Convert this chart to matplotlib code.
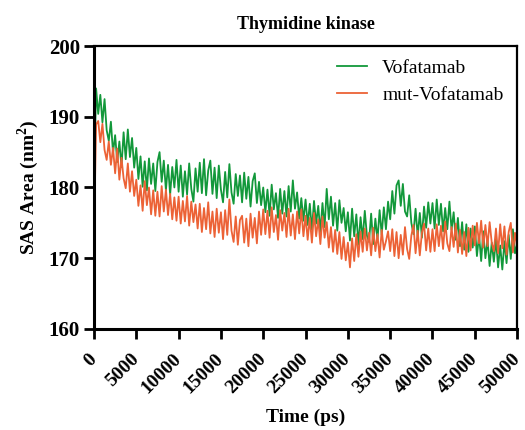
import numpy as np
import matplotlib.pyplot as plt

plt.rcParams['font.family'] = ['Liberation Serif', 'DejaVu Serif']
plt.rcParams['mathtext.fontset'] = 'custom'
plt.rcParams['mathtext.bf'] = 'Liberation Serif:bold'
plt.rcParams['mathtext.rm'] = 'Liberation Serif'

## time axis, one sample every 250 ps
time_ps = np.arange(0, 50001, 250)

## Vofatamab (green)
vofatamab = [
    180.0, 194.0, 190.4, 193.1, 189.2, 192.5, 188.1, 186.6, 189.3, 184.9,
    187.4, 183.6, 186.5, 182.9, 187.8, 184.0, 188.2, 184.3, 187.0, 182.8,
    185.6, 181.2, 184.4, 180.1, 183.7, 179.6, 184.1, 180.5, 183.4, 179.5,
    183.6, 185.0, 180.8, 183.8, 179.6, 183.2, 179.0, 182.9, 180.0, 183.9,
    179.4, 183.1, 178.7, 182.3, 179.0, 183.4, 179.8, 178.0, 182.7, 179.4,
    183.5, 179.2, 184.0, 178.9, 182.4, 183.8, 179.1, 182.8, 178.5, 183.1,
    179.7, 177.9, 182.2, 178.6, 183.3, 179.3, 177.7, 181.9, 178.8, 181.7,
    177.9, 182.1, 178.4, 181.5, 177.3, 180.9, 182.0, 177.8, 180.8, 177.5,
    180.0, 176.5, 179.7, 176.0, 180.4, 176.9, 179.2, 175.7, 179.8, 176.3,
    179.5, 175.9, 180.2, 176.6, 181.0, 177.0, 179.3, 175.6, 178.5, 175.3,
    178.3, 174.7, 177.7, 174.0, 178.1, 174.9, 177.4, 173.7, 177.8, 174.4,
    179.8, 175.5, 178.7, 174.6, 177.8, 173.9, 178.2, 175.0, 177.1, 173.8,
    176.5, 172.5, 177.0, 173.1, 176.2, 171.9, 175.8, 172.7, 176.7, 173.2,
    172.3, 176.3, 172.0, 175.6, 172.6, 176.8, 173.3, 177.2, 174.1, 178.0,
    175.5, 179.5, 176.3, 180.3, 181.0, 177.4, 180.5, 176.6, 175.9, 178.9,
    175.0, 173.4, 177.0, 173.1, 176.4, 172.9, 177.3, 174.3, 177.9, 174.9,
    177.8, 174.2, 178.3, 174.7, 177.7, 173.8, 177.1, 174.1, 178.0, 174.0,
    176.5, 172.6, 175.7, 171.7, 175.1, 171.2, 174.8, 170.9, 174.2, 171.5,
    174.5, 170.3, 173.3, 169.6, 173.8, 170.0, 172.6, 168.9, 172.2, 169.5,
    172.7, 168.7, 171.8, 168.4, 172.4, 169.3, 173.3, 169.9, 174.1, 170.7,
    172.0,
]

## mut-Vofatamab (orange)
mut_vofatamab = [
    173.0, 188.9, 189.4, 186.4, 189.0, 185.3, 183.9, 186.5, 183.2, 185.6,
    182.0, 185.5, 181.1, 184.2, 181.3, 179.9, 183.4, 179.4, 182.3, 178.8,
    181.1, 177.4, 180.3, 176.7, 180.9, 177.5, 180.0, 176.2, 179.6, 176.0,
    179.4, 175.9, 180.2, 176.6, 179.7, 176.1, 179.1, 175.5, 178.6, 175.3,
    178.7, 174.9, 178.1, 175.2, 178.8, 174.6, 178.0, 175.1, 177.6, 174.2,
    177.7, 173.7, 177.1, 174.1, 177.9, 173.5, 176.6, 173.0, 177.0, 173.6,
    176.5, 172.7, 176.8, 173.3, 178.3, 173.9, 172.3, 175.9, 171.9, 175.4,
    176.0, 172.2, 175.6, 171.7, 176.3, 172.9, 175.7, 172.1, 176.6, 173.3,
    176.9, 173.4, 176.7, 172.9, 177.2, 173.7, 176.1, 172.6, 176.8, 173.9,
    176.4, 173.0, 177.0, 173.2, 176.2, 172.7, 176.6, 173.5, 176.9, 173.1,
    176.0, 172.6, 175.7, 172.2, 176.4, 173.1, 175.5, 172.0, 175.9, 172.9,
    175.1, 171.5, 174.4, 170.9, 174.0, 170.6, 173.7, 169.9, 173.0, 169.7,
    172.2, 168.7, 172.8, 169.6, 173.4, 170.2, 173.8, 170.9, 174.2, 171.1,
    173.6, 170.4, 174.3, 171.0, 173.4, 170.1, 174.0, 171.2, 172.4, 173.8,
    171.0, 174.1, 170.3, 173.7, 170.0, 173.3, 170.5, 174.4, 171.3, 169.9,
    173.2, 174.7, 170.7, 173.9, 170.4, 173.6, 174.9, 171.1, 174.2, 170.9,
    174.1, 171.0, 174.8, 171.7, 174.6, 171.3, 175.2, 172.1, 171.0, 174.4,
    171.6, 174.9, 170.8, 174.0, 170.6, 173.7, 170.3, 174.3, 171.1, 174.6,
    171.8, 175.0, 172.1, 175.3, 171.5, 174.7, 171.7, 175.1, 172.2, 171.0,
    174.2, 170.7, 174.8, 171.4, 174.5, 170.5, 173.7, 175.0, 170.8, 173.6,
    171.5,
]

x_ticks = np.arange(0, 50001, 5000)
y_ticks = [160, 170, 180, 190, 200]

fig = plt.figure(figsize=(5.25, 4.3), dpi=100)
ax = fig.add_axes([0.179, 0.235, 0.806, 0.658])

ax.plot(time_ps, vofatamab, color='#12983a', lw=1.3, label='Vofatamab')
ax.plot(time_ps, mut_vofatamab, color='#ec6236', lw=1.3, label='mut-Vofatamab')

ax.set_xlim(0, 50000)
ax.set_ylim(160, 200)
ax.set_xticks(x_ticks)
ax.set_yticks(y_ticks)
ax.set_xticklabels([str(t) for t in x_ticks], rotation=45, ha='right', va='center',
                   rotation_mode='anchor', fontweight='bold', fontsize=14)
ax.set_yticklabels([str(t) for t in y_ticks], fontweight='bold', fontsize=15)
ax.tick_params(axis='both', direction='out', length=7, width=2, pad=3)
ax.tick_params(axis='x', pad=13)

for side in ['left', 'bottom']:
    ax.spines[side].set_linewidth(2.2)
for side in ['top', 'right']:
    ax.spines[side].set_linewidth(1.6)

ax.set_xlabel('Time (ps)', fontweight='bold', fontsize=14, labelpad=8)
ax.set_ylabel(r'SAS Area (nm$^\mathbf{2}$)', fontweight='bold', fontsize=14, labelpad=6)
ax.set_title('Thymidine kinase', fontweight='bold', fontsize=13, pad=12)

ax.legend(loc='upper right', frameon=False, fontsize=14, handlelength=1.5,
          labelspacing=0.45, borderaxespad=0.3)

fig.savefig('out.png', dpi=100)
